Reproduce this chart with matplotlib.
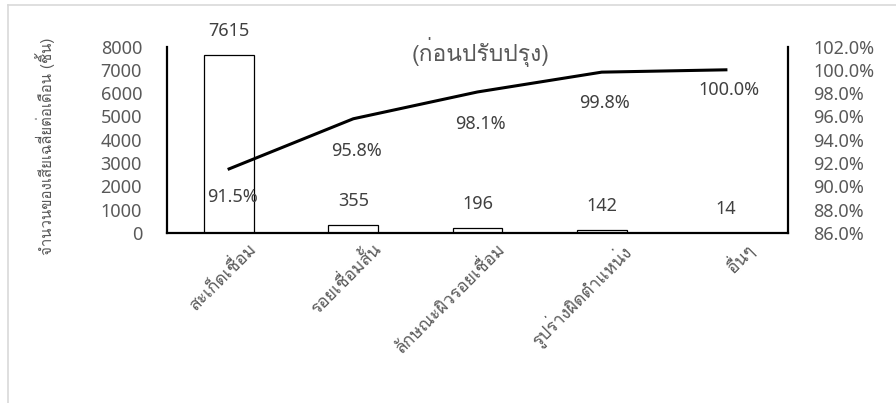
import matplotlib
matplotlib.use("Agg")
import matplotlib.pyplot as plt
from matplotlib.lines import Line2D
from matplotlib.transforms import offset_copy

plt.rcParams["font.family"] = ["Noto Sans", "DejaVu Sans"]
THAI = ["Loma", "Noto Sans Thai Looped", "DejaVu Sans"]

categories = ["สะเก็ดเชื่อม", "รอยเชื่อมสั้น", "ลักษณะผิวรอยเชื่อม", "รูปร่างผิดตำแหน่ง", "อื่นๆ"]
counts = [7615, 355, 196, 142, 14]
cum_pct = [91.5, 95.8, 98.1, 99.8, 100.0]
left_ticks = [0, 1000, 2000, 3000, 4000, 5000, 6000, 7000, 8000]
right_ticks = [86, 88, 90, 92, 94, 96, 98, 100, 102]

GREY = "#595959"
LABEL = "#404040"
FS = 13


def main():
    fig = plt.figure(figsize=(8.96, 4.03), dpi=100)
    W, H = 896, 403
    ax = fig.add_axes([167 / W, 1 - 233 / H, (788 - 167) / W, (233 - 46.5) / H])
    ax2 = ax.twinx()

    x = range(len(categories))
    bars = ax.bar(x, counts, width=0.4, color="white", edgecolor="black", linewidth=0.9, zorder=2)
    ax.set_xlim(-0.5, len(categories) - 0.5)
    ax.set_ylim(0, 8000)
    ax.set_yticks(left_ticks)
    ax.set_yticklabels([str(t) for t in left_ticks])

    for b, v in zip(bars, counts):
        ax.annotate(str(v), (b.get_x() + b.get_width() / 2, v), xytext=(0, 24),
                    textcoords="offset pixels", ha="center", va="center",
                    fontsize=FS, color=LABEL)

    ax2.plot(list(x), cum_pct, color="black", linewidth=2.2, zorder=3)
    ax2.set_ylim(86, 102)
    ax2.set_yticks(right_ticks)
    ax2.set_yticklabels([f"{t:.1f}%" for t in right_ticks])

    # label offsets below each point, in pixels
    below = [28, 32, 32, 31, 20]
    for i, (v, d) in enumerate(zip(cum_pct, below)):
        ax2.annotate(f"{v:.1f}%", (i, v), xytext=(3, -d), textcoords="offset pixels",
                     ha="center", va="center", fontsize=FS, color=LABEL)

    for a in (ax, ax2):
        a.tick_params(length=0, labelsize=FS, colors=GREY)
        a.spines["top"].set_visible(False)
        for s in ("left", "right", "bottom"):
            a.spines[s].set_linewidth(1.6)
            a.spines[s].set_color("black")
    ax.tick_params(axis="y", pad=18)
    ax2.tick_params(axis="y", pad=18)
    ax.spines["right"].set_visible(False)
    ax2.spines["left"].set_visible(False)
    ax2.spines["bottom"].set_visible(False)

    ax.set_xticks(list(x))
    ax.set_xticklabels(categories, family=THAI, fontsize=12.5)
    for lbl in ax.get_xticklabels():
        lbl.set_rotation(45)
        lbl.set_ha("right")
        lbl.set_va("top")
        lbl.set_rotation_mode("anchor")
        lbl.set_transform(offset_copy(lbl.get_transform(), fig=fig, x=18, y=-2, units="dots"))

    fig.text(45 / W, 1 - 146 / H, "จำนวนของเสียเฉลี่ยต่อเดือน (ชิ้น)", rotation=90,
             ha="center", va="center", fontsize=10.8, color=GREY, family=THAI)

    fig.text(481 / W, 1 - 52 / H, "(ก่อนปรับปรุง)", ha="center", va="center",
             fontsize=16.5, color=GREY, family=THAI)

    fig.add_artist(Line2D([8 / W, 1], [1 - 5 / H, 1 - 5 / H], transform=fig.transFigure,
                          color="#d9d9d9", linewidth=1.2))
    fig.add_artist(Line2D([8 / W, 8 / W], [0, 1 - 5 / H], transform=fig.transFigure,
                          color="#d9d9d9", linewidth=1.2))

    fig.savefig("out.png", dpi=100)
    plt.close(fig)


if __name__ == "__main__":
    main()
